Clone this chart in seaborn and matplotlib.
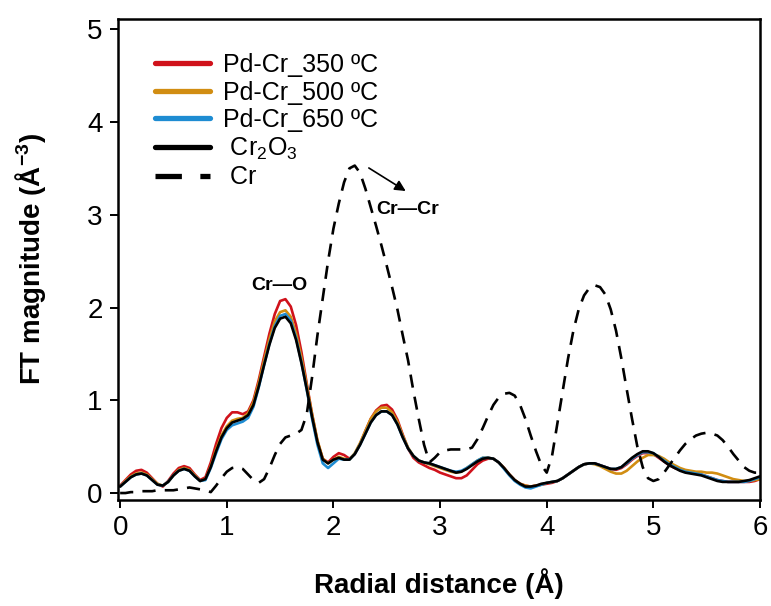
import numpy as np
import pandas as pd
import seaborn as sns
import matplotlib
matplotlib.use("Agg")
import matplotlib.pyplot as plt

# ---------------- data ----------------
r_grid = [round(0.05 * i, 2) for i in range(121)]  # radial distance (Å)

pdcr_350 = [0.08,0.14,0.20,0.24,0.25,0.22,0.16,0.10,0.07,0.13,
            0.21,0.27,0.29,0.27,0.20,0.14,0.17,0.33,0.53,0.70,
            0.81,0.87,0.87,0.85,0.88,1.00,1.22,1.47,1.72,1.93,
            2.07,2.09,2.01,1.81,1.52,1.18,0.85,0.56,0.37,0.33,
            0.39,0.43,0.41,0.37,0.42,0.53,0.67,0.80,0.89,0.94,
            0.95,0.90,0.79,0.63,0.48,0.38,0.33,0.30,0.27,0.25,
            0.22,0.20,0.18,0.16,0.16,0.19,0.25,0.31,0.35,0.37,
            0.37,0.33,0.27,0.20,0.14,0.10,0.08,0.07,0.08,0.09,
            0.10,0.11,0.13,0.16,0.20,0.24,0.28,0.31,0.32,0.32,
            0.30,0.28,0.26,0.25,0.27,0.31,0.36,0.40,0.43,0.43,
            0.42,0.38,0.34,0.30,0.27,0.25,0.23,0.22,0.21,0.20,
            0.18,0.16,0.14,0.13,0.12,0.12,0.12,0.12,0.12,0.13,
            0.15]

pdcr_500 = [0.07,0.13,0.18,0.21,0.22,0.20,0.15,0.10,0.08,0.12,
            0.19,0.25,0.27,0.25,0.19,0.13,0.15,0.29,0.47,0.62,
            0.72,0.78,0.80,0.81,0.86,0.98,1.19,1.43,1.66,1.85,
            1.95,1.97,1.90,1.72,1.46,1.16,0.85,0.57,0.37,0.32,
            0.36,0.39,0.37,0.36,0.43,0.54,0.67,0.80,0.88,0.92,
            0.92,0.87,0.77,0.62,0.49,0.40,0.35,0.33,0.31,0.29,
            0.27,0.25,0.23,0.22,0.23,0.27,0.31,0.35,0.38,0.38,
            0.37,0.33,0.27,0.20,0.14,0.10,0.08,0.07,0.08,0.09,
            0.11,0.12,0.13,0.16,0.20,0.24,0.28,0.31,0.32,0.31,
            0.29,0.26,0.23,0.21,0.21,0.24,0.29,0.34,0.38,0.41,
            0.41,0.40,0.37,0.33,0.30,0.27,0.25,0.24,0.23,0.23,
            0.22,0.22,0.21,0.19,0.17,0.15,0.14,0.13,0.13,0.14,
            0.15]

pdcr_650 = [0.07,0.12,0.17,0.20,0.21,0.19,0.14,0.09,0.08,0.12,
            0.19,0.24,0.26,0.24,0.18,0.13,0.14,0.27,0.43,0.58,
            0.68,0.73,0.75,0.77,0.81,0.93,1.14,1.38,1.61,1.80,
            1.91,1.93,1.86,1.67,1.41,1.11,0.80,0.52,0.32,0.27,
            0.32,0.37,0.36,0.36,0.42,0.52,0.64,0.76,0.84,0.88,
            0.88,0.84,0.74,0.60,0.48,0.40,0.35,0.33,0.32,0.30,
            0.28,0.26,0.24,0.23,0.24,0.27,0.31,0.35,0.38,0.38,
            0.37,0.33,0.26,0.19,0.13,0.09,0.06,0.05,0.07,0.09,
            0.11,0.12,0.13,0.16,0.20,0.24,0.28,0.31,0.32,0.32,
            0.30,0.28,0.26,0.26,0.28,0.32,0.37,0.41,0.44,0.44,
            0.43,0.39,0.35,0.31,0.28,0.25,0.23,0.22,0.21,0.20,
            0.18,0.16,0.14,0.13,0.12,0.12,0.12,0.12,0.13,0.15,
            0.17]

cr2o3 = [0.07,0.12,0.17,0.20,0.21,0.19,0.14,0.09,0.08,0.12,
         0.19,0.24,0.26,0.24,0.18,0.13,0.15,0.28,0.45,0.60,
         0.70,0.76,0.78,0.80,0.84,0.95,1.15,1.38,1.60,1.78,
         1.88,1.90,1.83,1.65,1.40,1.12,0.82,0.55,0.36,0.32,
         0.36,0.38,0.36,0.36,0.42,0.52,0.64,0.76,0.84,0.88,
         0.88,0.84,0.74,0.60,0.48,0.40,0.35,0.33,0.32,0.30,
         0.28,0.26,0.24,0.22,0.23,0.26,0.30,0.34,0.37,0.38,
         0.37,0.33,0.27,0.20,0.14,0.10,0.07,0.07,0.08,0.10,
         0.11,0.12,0.13,0.16,0.20,0.24,0.28,0.31,0.32,0.32,
         0.30,0.28,0.26,0.26,0.28,0.33,0.38,0.42,0.45,0.45,
         0.43,0.39,0.34,0.30,0.27,0.24,0.22,0.21,0.20,0.19,
         0.17,0.15,0.13,0.12,0.12,0.12,0.12,0.13,0.14,0.16,
         0.18]

cr_metal = [0.00,0.00,0.01,0.01,0.02,0.02,0.02,0.03,0.03,0.03,
            0.03,0.04,0.05,0.06,0.05,0.04,0.03,0.01,0.08,0.16,
            0.23,0.27,0.28,0.26,0.20,0.14,0.11,0.15,0.27,0.41,
            0.53,0.60,0.62,0.64,0.68,0.85,1.25,1.70,2.10,2.50,
            2.85,3.12,3.35,3.50,3.53,3.45,3.28,3.08,2.88,2.67,
            2.45,2.22,1.98,1.70,1.43,1.10,0.80,0.52,0.33,0.38,
            0.44,0.46,0.47,0.47,0.47,0.47,0.49,0.58,0.70,0.83,
            0.95,1.03,1.07,1.08,1.05,0.95,0.80,0.62,0.45,0.30,
            0.22,0.40,0.75,1.10,1.45,1.75,1.98,2.13,2.21,2.24,
            2.22,2.14,1.98,1.75,1.45,1.12,0.80,0.50,0.28,0.16,
            0.13,0.15,0.22,0.30,0.38,0.46,0.53,0.58,0.62,0.64,
            0.65,0.64,0.62,0.57,0.50,0.42,0.35,0.28,0.24,0.22,
            0.22]

series_labels = ["Pd-Cr_350 ºC", "Pd-Cr_500 ºC", "Pd-Cr_650 ºC",
                 " Cr$_2$O$_3$", " Cr"]
series_colors = ["#D0121B", "#D18D12", "#1E8CD2", "#000000", "#000000"]
x_ticks = [0, 1, 2, 3, 4, 5, 6]
y_ticks = [0, 1, 2, 3, 4, 5]

# ---------------- style ----------------
sns.set_style("ticks")
plt.rcParams["font.family"] = ["Liberation Sans", "DejaVu Sans"]
plt.rcParams["mathtext.fontset"] = "custom"
plt.rcParams["mathtext.rm"] = "Liberation Sans"
plt.rcParams["mathtext.it"] = "Liberation Sans:italic"
plt.rcParams["mathtext.bf"] = "Liberation Sans:bold"
plt.rcParams["mathtext.default"] = "regular"
for key in ["text.color", "axes.labelcolor", "xtick.color", "ytick.color",
            "axes.edgecolor"]:
    plt.rcParams[key] = "black"

fig = plt.figure(figsize=(7.71, 6.06), dpi=100)
ax = fig.add_axes([118 / 771, 106 / 606, (760 - 118) / 771, (500 - 19) / 606])

all_series = [pdcr_350, pdcr_500, pdcr_650, cr2o3, cr_metal]
lines = []
for vals, lab, col in zip(all_series, series_labels, series_colors):
    df = pd.DataFrame({"r": r_grid, "ft": vals})
    ls = (0, (5, 3.5)) if lab.strip() == "Cr" else "-"
    sns.lineplot(data=df, x="r", y="ft", ax=ax, color=col, lw=1.9,
                 linestyle=ls, label=lab, legend=False, sort=False)
    lines.append(ax.lines[-1])

ax.set_xlim(-0.02, 6.0)
ax.set_ylim(-0.075, 5.11)
ax.set_xticks(x_ticks)
ax.set_yticks(y_ticks)
ax.tick_params(axis="both", direction="out", length=6, width=1.4,
               labelsize=20, pad=5, colors="black", labelcolor="black")
for s in ax.spines.values():
    s.set_linewidth(1.8)
    s.set_color("black")

ax.set_xlabel("Radial distance (Å)", fontsize=20, fontweight="bold",
              labelpad=19, color="black")
ax.set_ylabel(r"FT magnitude (Å$\mathbf{^{-3}}$)", fontsize=20,
              fontweight="bold", labelpad=28, color="black")

leg = ax.legend(handles=lines, labels=series_labels, loc="upper left",
                bbox_to_anchor=(0.035, 0.96), frameon=False, fontsize=18,
                handlelength=2.2, handletextpad=0.5, labelspacing=0.14,
                borderaxespad=0.2)
for h in leg.legend_handles:
    h.set_linewidth(3.8)
for t in leg.get_texts():
    t.set_color("black")

ax.text(1.49, 2.24, "Cr—O", fontsize=14, fontweight="bold",
        ha="center", va="center", color="black")
ax.text(2.70, 3.06, "Cr—Cr", fontsize=14, fontweight="bold",
        ha="center", va="center", color="black")
ax.annotate("", xy=(2.70, 3.24), xytext=(2.31, 3.52),
            arrowprops=dict(arrowstyle="-|>", color="black", lw=1.2,
                            mutation_scale=16))

fig.savefig("out.png", dpi=100)
